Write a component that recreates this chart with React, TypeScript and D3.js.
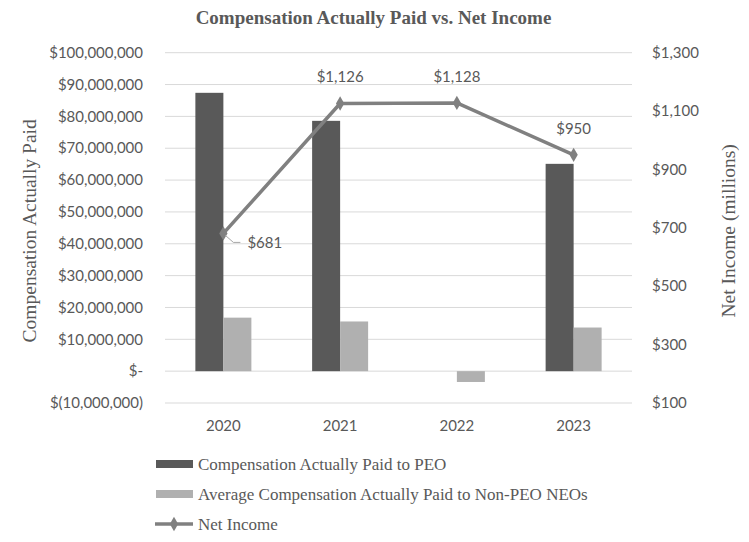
import { useEffect, useRef } from 'react'
import * as d3 from 'd3'

const YEARS = ['2020', '2021', '2022', '2023']
const CAP_PEO = [87_400_000, 78_600_000, 0, 65_100_000]
const CAP_NON_PEO = [16_800_000, 15_600_000, -3_400_000, 13_700_000]
const NET_INCOME = [681, 1126, 1128, 950]
const LEFT_TICKS = d3.range(-10_000_000, 100_000_001, 10_000_000)
const RIGHT_TICKS = [100, 300, 500, 700, 900, 1100, 1300]
const LEGEND = [
  'Compensation Actually Paid to PEO',
  'Average Compensation Actually Paid to Non-PEO NEOs',
  'Net Income',
]

const W = 749
const H = 542
const M = { top: 52.7, right: 117, bottom: 139, left: 165 }
const TEXT = '#595959'
const DARK = '#595959'
const LIGHT = '#b0b0b0'
const LINE = '#808080'
const GRID = '#d9d9d9'
const SANS = 'Lato, Carlito, Calibri, sans-serif'
const SERIF = '"Liberation Serif", "Times New Roman", serif'

const fmtLeft = (v: number) => {
  if (v === 0) return '$-'
  const s = d3.format(',')(Math.abs(v))
  return v < 0 ? `$(${s})` : `$${s}`
}

export default function App() {
  const svgRef = useRef<SVGSVGElement>(null)

  useEffect(() => {
    if (!svgRef.current) return
    const svg = d3.select(svgRef.current)
    svg.selectAll('*').remove()

    const x0 = M.left
    const x1 = W - M.right
    const y0 = M.top
    const y1 = H - M.bottom

    const x = d3.scaleBand().domain(YEARS).range([x0, x1])
    const yL = d3.scaleLinear().domain([-10_000_000, 100_000_000]).range([y1, y0])
    const yR = d3.scaleLinear().domain([100, 1300]).range([y1, y0])
    const barW = 28

    // title
    svg.append('text')
      .attr('x', W / 2 - 1).attr('y', 24).attr('text-anchor', 'middle')
      .style('font-family', SERIF).style('font-weight', 'bold').style('font-size', '19px')
      .style('fill', TEXT).text('Compensation Actually Paid vs. Net Income')

    // gridlines
    svg.append('g').selectAll('line').data(LEFT_TICKS).join('line')
      .attr('x1', x0).attr('x2', x1)
      .attr('y1', d => yL(d)).attr('y2', d => yL(d))
      .attr('stroke', GRID).attr('stroke-width', 1)

    // left tick labels
    svg.append('g').selectAll('text').data(LEFT_TICKS).join('text')
      .attr('x', 143).attr('y', d => yL(d)).attr('dy', '0.35em').attr('text-anchor', 'end')
      .style('font-family', SANS).style('font-size', '15px').style('fill', TEXT)
      .text(d => fmtLeft(d))

    // right tick labels
    svg.append('g').selectAll('text').data(RIGHT_TICKS).join('text')
      .attr('x', 652).attr('y', d => yR(d)).attr('dy', '0.35em').attr('text-anchor', 'start')
      .style('font-family', SANS).style('font-size', '15px').style('fill', TEXT)
      .text(d => '$' + d3.format(',')(d))

    // axis titles
    svg.append('text')
      .attr('transform', `translate(36,${(y0 + y1) / 2 + 3}) rotate(-90)`).attr('text-anchor', 'middle')
      .style('font-family', SERIF).style('font-size', '19.5px').style('fill', TEXT)
      .text('Compensation Actually Paid')
    svg.append('text')
      .attr('transform', `translate(735,${(y0 + y1) / 2 + 3}) rotate(-90)`).attr('text-anchor', 'middle')
      .style('font-family', SERIF).style('font-size', '19.5px').style('fill', TEXT)
      .text('Net Income (millions)')

    // year labels
    svg.append('g').selectAll('text').data(YEARS).join('text')
      .attr('x', d => x(d)! + x.bandwidth() / 2).attr('y', 431).attr('text-anchor', 'middle')
      .style('font-family', SANS).style('font-size', '15px').style('fill', TEXT)
      .text(d => d)

    // bars
    const bars = svg.append('g')
    YEARS.forEach((yr, i) => {
      const cx = x(yr)! + x.bandwidth() / 2
      const a = CAP_PEO[i]
      const b = CAP_NON_PEO[i]
      if (a !== 0) {
        bars.append('rect')
          .attr('x', cx - barW).attr('width', barW)
          .attr('y', yL(Math.max(0, a))).attr('height', Math.abs(yL(a) - yL(0)))
          .attr('fill', DARK)
      }
      bars.append('rect')
        .attr('x', cx).attr('width', barW)
        .attr('y', yL(Math.max(0, b))).attr('height', Math.abs(yL(b) - yL(0)))
        .attr('fill', LIGHT)
    })

    // net income line
    const pts = YEARS.map((yr, i) => [x(yr)! + x.bandwidth() / 2, yR(NET_INCOME[i])] as [number, number])
    svg.append('path')
      .attr('d', d3.line()(pts)!)
      .attr('fill', 'none').attr('stroke', LINE).attr('stroke-width', 3.5)
      .attr('stroke-linejoin', 'round')
    const diamond = d3.symbol(d3.symbolDiamond, 60)()!
    svg.append('g').selectAll('path').data(pts).join('path')
      .attr('transform', d => `translate(${d[0]},${d[1]})`)
      .attr('d', diamond).attr('fill', LINE)

    // data labels
    const lbl = svg.append('g')
      .style('font-family', SANS).style('font-size', '15px').style('fill', TEXT)
    NET_INCOME.forEach((v, i) => {
      const [px, py] = pts[i]
      const t = '$' + d3.format(',')(v)
      if (i === 0) {
        lbl.append('path')
          .attr('d', `M${px + 2},${py + 2}L${px + 10},${py + 9}L${px + 17},${py + 9}`)
          .attr('fill', 'none').attr('stroke', '#a6a6a6').attr('stroke-width', 1)
        lbl.append('text').attr('x', px + 24).attr('y', py + 9).attr('dy', '0.35em').text(t)
      } else {
        lbl.append('text').attr('x', px).attr('y', py - 21).attr('text-anchor', 'middle').text(t)
      }
    })

    // legend
    const lg = svg.append('g')
    const ly = [464, 494, 524]
    lg.append('rect').attr('x', 156).attr('y', ly[0] - 4).attr('width', 37).attr('height', 8).attr('fill', DARK)
    lg.append('rect').attr('x', 156).attr('y', ly[1] - 4).attr('width', 37).attr('height', 8).attr('fill', LIGHT)
    lg.append('line').attr('x1', 155).attr('x2', 193).attr('y1', ly[2]).attr('y2', ly[2])
      .attr('stroke', LINE).attr('stroke-width', 3.5)
    lg.append('path').attr('transform', `translate(174,${ly[2]})`).attr('d', diamond).attr('fill', LINE)
    lg.selectAll('text').data(LEGEND).join('text')
      .attr('x', 198).attr('y', (_, i) => ly[i]).attr('dy', '0.35em')
      .style('font-family', SERIF).style('font-size', '17px').style('fill', TEXT)
      .text(d => d)
  }, [])

  return (
    <svg ref={svgRef} width={W} height={H}
      style={{ position: 'absolute', left: 0, top: 0, background: '#fff' }} />
  )
}
